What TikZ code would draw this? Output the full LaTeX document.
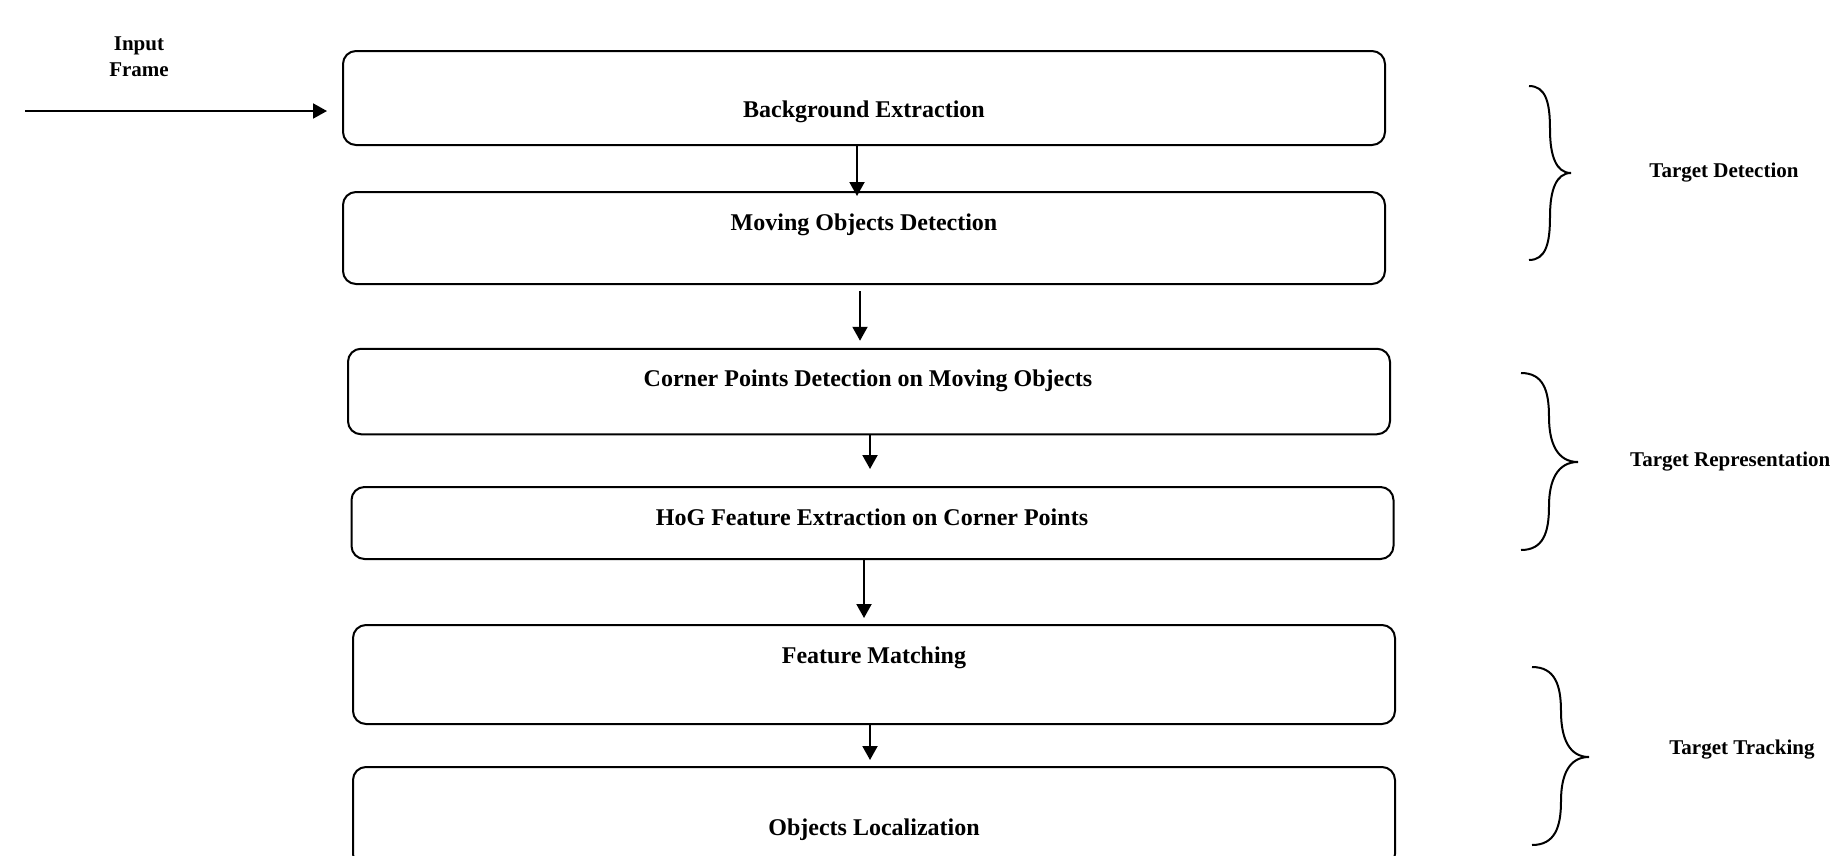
\documentclass[tikz,border=0pt]{standalone}
\usepackage{fontspec}
\setmainfont{Liberation Serif}
\usetikzlibrary{arrows.meta,calc}
\begin{document}
\begin{tikzpicture}[x=1pt,y=-1pt,
  box/.style={draw, line width=2pt, rounded corners=13pt, minimum width=1042pt, inner sep=0pt},
  boxtext/.style={font=\fontsize{24}{28}\selectfont\bfseries, inner sep=0pt},
  sidetext/.style={font=\fontsize{21}{26}\selectfont\bfseries, inner sep=0pt, align=center},
  arr/.style={line width=2pt, -{Triangle[length=14pt,width=15pt]}},
  bracestyle/.style={line width=2pt}
]
\useasboundingbox (0,0) rectangle (1832,855);

% boxes
\node[box, minimum height=94pt] (b1) at (864,98) {};
\node[box, minimum height=92pt] (b2) at (864,238) {};
\node[box, minimum height=85.5pt] (b3) at (869,391.5) {};
\node[box, minimum height=72pt] (b4) at (872.5,523) {};
\node[box, minimum height=99pt] (b5) at (874,674.5) {};
\node[box, minimum height=100pt] (b6) at (874,817) {};

% box texts
\node[boxtext] (t1) at (864,112) {Background Extraction};
\node[boxtext] (t2) at (864,225) {Moving Objects Detection};
\node[boxtext] (t3) at (868,381) {Corner Points Detection on Moving Objects};
\node[boxtext] (t4) at (872,517) {HoG Feature Extraction on Corner Points};
\node[boxtext] (t5) at (874,658) {Feature Matching};
\node[boxtext] (t6) at (874,830) {Objects Localization};

% input
\node[sidetext] (inlabel) at (139,57) {Input\\Frame};
\coordinate (inp) at (25,111);
\draw[arr] (inp) -- ($(b1.west |- inp)+(-15,0)$);

% connectors
\draw[arr] ($(b1.south)+(-7,0)$) -- ($(b2.north)+(-7,5)$);
\draw[arr] ($(b2.south)+(-4,6)$) -- ($(b3.north)+(-9,-7)$);
\draw[arr] ($(b3.south)+(1,0)$) -- ($(b4.north)+(-2.5,-17)$);
\draw[arr] ($(b4.south)+(-8.5,0)$) -- ($(b5.north)+(-10,-6)$);
\draw[arr] ($(b5.south)+(-4,0)$) -- ($(b6.north)+(-4,-6)$);

% braces
\draw[bracestyle] (1529,86) .. controls (1546,86) and (1550,103) .. (1550,129.5)
  .. controls (1550,155.6) and (1556,173) .. (1571,173)
  .. controls (1556,173) and (1550,190.4) .. (1550,216.5)
  .. controls (1550,243) and (1546,260) .. (1529,260);
\draw[bracestyle] (1521,373) .. controls (1543.4,373) and (1549,390.6) .. (1549,417)
  .. controls (1549,443.4) and (1557.4,462) .. (1578,462)
  .. controls (1557.4,462) and (1549,480.4) .. (1549,506)
  .. controls (1549,532.4) and (1543.4,550) .. (1521,550);
\draw[bracestyle] (1532,667) .. controls (1555,667) and (1561,685) .. (1561,711.5)
  .. controls (1561,738) and (1569,757) .. (1589,757)
  .. controls (1569,757) and (1561,775) .. (1561,801)
  .. controls (1561,827) and (1555,845) .. (1532,845);

% side labels
\node[sidetext] (l1) at (1724,173) {Target Detection};
\node[sidetext, anchor=west] (l2) at (1630,462) {Target Representation};
\node[sidetext] (l3) at (1742,750) {Target Tracking};
\end{tikzpicture}
\end{document}
